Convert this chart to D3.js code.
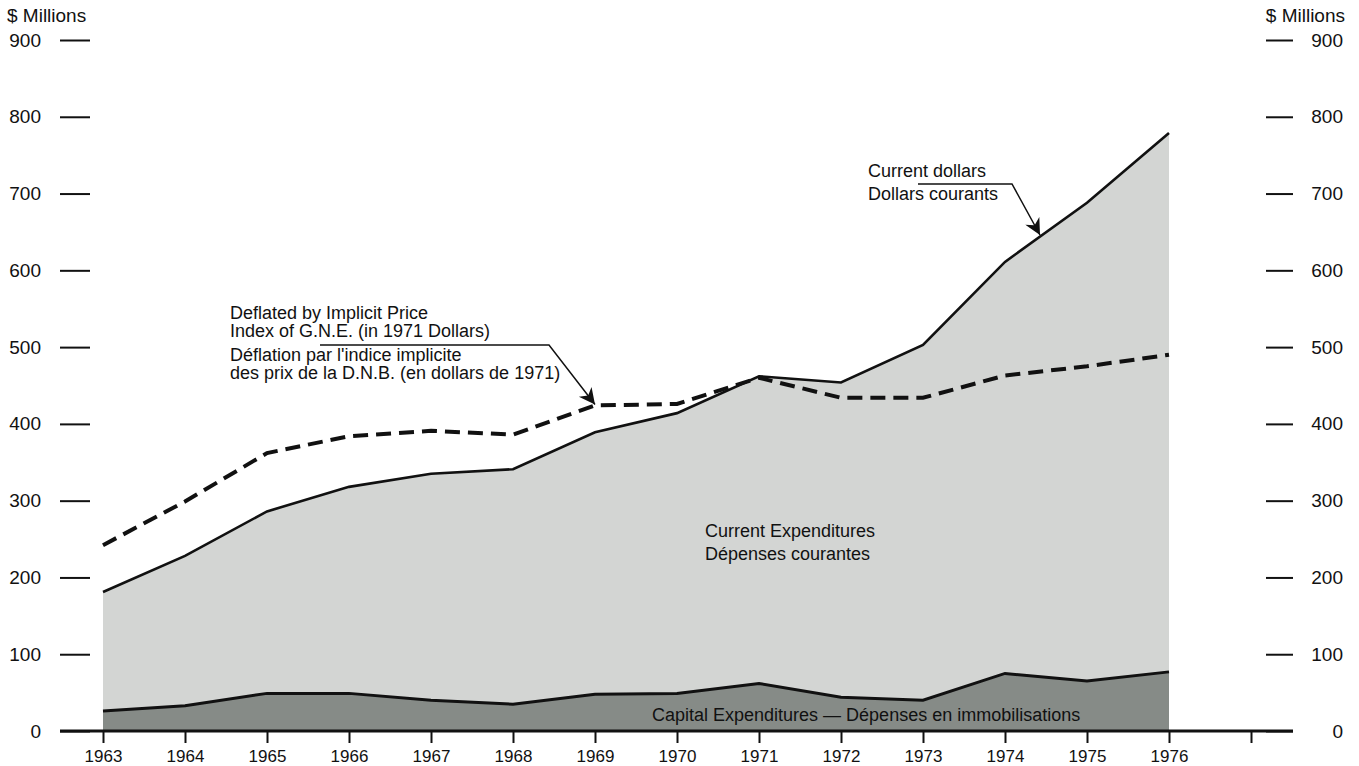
<!DOCTYPE html>
<html>
<meta charset="utf-8">
<style>
	body {
		margin: 0;
		padding: 0;
		background: #fff;
	}
	svg text {
		font-family: "Liberation Sans", Arial, sans-serif;
		fill: #111;
	}
	.axis path.domain {
		display: none;
	}
	.axis line {
		stroke: #111;
		stroke-width: 2px;
	}
	.axis text {
		font-size: 19px;
	}
	.axis--x text {
		font-size: 17px;
	}
	.note {
		font-size: 18px;
	}
	.unit {
		font-size: 19px;
	}
</style>
<body>
<svg id="chart" width="1359" height="766"></svg>

<script src="https://cdn.jsdelivr.net/npm/d3@7"></script>
<script>
// values ($ millions)
var years = [1963, 1964, 1965, 1966, 1967, 1968, 1969, 1970, 1971, 1972, 1973, 1974, 1975, 1976];
var currentDollars = [181, 228, 286, 318, 335, 341, 389, 414, 462, 454, 503, 611, 688, 779];
var deflated = [242, 299, 362, 384, 391, 386, 424, 426, 460, 434, 434, 463, 475, 490];
var capital = [26, 33, 49, 49, 40, 35, 48, 49, 62, 44, 40, 75, 65, 77];
var yTicks = [0, 100, 200, 300, 400, 500, 600, 700, 800, 900];
var xTicks = [1963, 1964, 1965, 1966, 1967, 1968, 1969, 1970, 1971, 1972, 1973, 1974, 1975, 1976, 1977];

var svg = d3.select("#chart");

var x = d3.scaleLinear().domain([1963, 1977]).range([103, 1251]);
var y = d3.scaleLinear().domain([0, 900]).range([731, 40]);

var rows = years.map(function(yr, i) {
	return {year: yr, total: currentDollars[i], defl: deflated[i], cap: capital[i]};
});

// areas
var totalArea = d3.area()
	.x(function(d) { return x(d.year); })
	.y0(y(0))
	.y1(function(d) { return y(d.total); });

var capArea = d3.area()
	.x(function(d) { return x(d.year); })
	.y0(y(0))
	.y1(function(d) { return y(d.cap); });

svg.append("path")
	.datum(rows)
	.attr("d", totalArea)
	.attr("fill", "#d3d5d3");

svg.append("path")
	.datum(rows)
	.attr("d", capArea)
	.attr("fill", "#868b87");

// lines
var line = function(key) {
	return d3.line()
		.x(function(d) { return x(d.year); })
		.y(function(d) { return y(d[key]); });
};

svg.append("path")
	.datum(rows)
	.attr("d", line("cap"))
	.attr("fill", "none")
	.attr("stroke", "#111")
	.attr("stroke-width", 3);

svg.append("path")
	.datum(rows)
	.attr("d", line("total"))
	.attr("fill", "none")
	.attr("stroke", "#111")
	.attr("stroke-width", 2.6);

svg.append("path")
	.datum(rows)
	.attr("d", line("defl"))
	.attr("fill", "none")
	.attr("stroke", "#111")
	.attr("stroke-width", 4)
	.attr("stroke-dasharray", "15,8");

// axes
svg.append("line")
	.attr("x1", 60).attr("x2", 1293)
	.attr("y1", y(0)).attr("y2", y(0))
	.attr("stroke", "#111")
	.attr("stroke-width", 3);

svg.append("g")
	.attr("class", "axis axis--x")
	.attr("transform", "translate(0," + y(0) + ")")
	.call(d3.axisBottom(x)
		.tickValues(xTicks)
		.tickSize(12)
		.tickPadding(7)
		.tickFormat(function(d) { return d === 1977 ? "" : d; }));

svg.append("g")
	.attr("class", "axis")
	.attr("transform", "translate(90,0)")
	.call(d3.axisLeft(y).tickValues(yTicks).tickSize(30).tickPadding(19));

var right = svg.append("g")
	.attr("class", "axis")
	.attr("transform", "translate(1266,0)")
	.call(d3.axisRight(y).tickValues(yTicks).tickSize(27));
right.selectAll("text")
	.attr("text-anchor", "end")
	.attr("x", 77);

svg.append("text").attr("class", "unit").attr("x", 7).attr("y", 22).text("$ Millions");
svg.append("text").attr("class", "unit").attr("x", 1345).attr("y", 22)
	.attr("text-anchor", "end").text("$ Millions");

// arrowhead
svg.append("defs").append("marker")
	.attr("id", "arrow")
	.attr("viewBox", "0 0 10 10")
	.attr("refX", 10).attr("refY", 5)
	.attr("markerWidth", 20).attr("markerHeight", 16)
	.attr("markerUnits", "userSpaceOnUse")
	.attr("orient", "auto")
	.append("path")
	.attr("d", "M0,0 L10,5 L0,10 L3,5 Z")
	.attr("fill", "#111");

// annotations
var notes = [
	{x: 230, y: 319, t: "Deflated by Implicit Price"},
	{x: 230, y: 337, t: "Index of G.N.E. (in 1971 Dollars)"},
	{x: 230, y: 361, t: "Déflation par l'indice implicite"},
	{x: 230, y: 379, t: "des prix de la D.N.B. (en dollars de 1971)"},
	{x: 868, y: 177, t: "Current dollars"},
	{x: 868, y: 200, t: "Dollars courants"},
	{x: 705, y: 537, t: "Current Expenditures"},
	{x: 705, y: 560, t: "Dépenses courantes"},
	{x: 652, y: 721, t: "Capital Expenditures — Dépenses en immobilisations"}
];
svg.selectAll("text.ann")
	.data(notes)
	.enter().append("text")
	.attr("class", "note ann")
	.attr("x", function(d) { return d.x; })
	.attr("y", function(d) { return d.y; })
	.text(function(d) { return d.t; });

// leader lines pointing at the series
svg.append("path")
	.attr("d", "M320,345 L549,345 L" + x(1969) + "," + (y(424) - 1))
	.attr("fill", "none")
	.attr("stroke", "#111")
	.attr("stroke-width", 1.5)
	.attr("marker-end", "url(#arrow)");

svg.append("path")
	.attr("d", "M918,184 L1012,184 L1040,235")
	.attr("fill", "none")
	.attr("stroke", "#111")
	.attr("stroke-width", 1.5)
	.attr("marker-end", "url(#arrow)");
</script>
</body>
</html>
